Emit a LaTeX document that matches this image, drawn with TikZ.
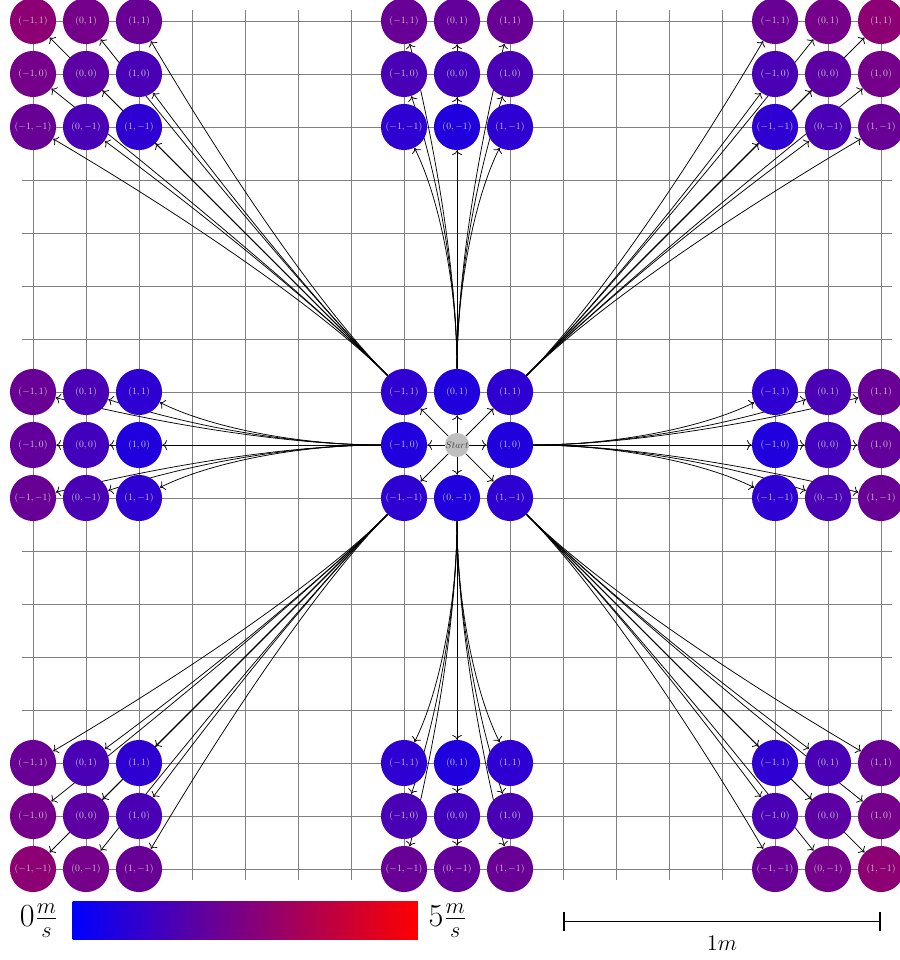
\documentclass[tikz,border=0pt]{standalone}
\usepackage{amsmath}
\usetikzlibrary{positioning,backgrounds,arrows.meta,calc}

\newcommand{\statelabel}[1]{\scalebox{0.52}{$#1$}}

\begin{document}
\begin{tikzpicture}[
  state/.style={circle, minimum size=0.87cm, inner sep=0pt, text=gray!40},
  startstate/.style={circle, inner sep=0pt, fill=lightgray, text=darkgray},
  move/.style={->, black}]
  \useasboundingbox (-8.623,-9.717) rectangle (8.34,8.396);

  % start, first accelerations and the states reached after two steps
  \node[startstate] (start) at (0,0) {\statelabel{Start}};
  \foreach \ax/\ay in {1/0,1/1,0/1,-1/1,-1/0,-1/-1,0/-1,1/-1}{
    \pgfmathtruncatemacro{\col}{13*veclen(\ax,\ay)}
    \node[state, fill=red!\col!blue] (c\ax_\ay) at (\ax,\ay) {\statelabel{(\ax,\ay)}};
    \foreach \bx in {-1,0,1}
      \foreach \by in {-1,0,1}{
        \pgfmathtruncatemacro{\col}{13*veclen(2*(\ax)+(\bx),2*(\ay)+(\by))}
        \node[state, fill=red!\col!blue] (o\ax_\ay_\bx_\by)
          at ({7*(\ax)+(\bx)},{7*(\ay)+(\by)}) {\statelabel{(\bx,\by)}};
      }
  }

  \begin{scope}[on background layer]
    \draw[gray] (-8.2,-8.2) grid (8.2,8.2);
    \foreach \ax/\ay/\ang in {1/0/0,1/1/45,0/1/90,-1/1/135,-1/0/180,-1/-1/225,0/-1/270,1/-1/315}{
      \draw[move] (start) -- (c\ax_\ay);
      \coordinate (q) at ($(c\ax_\ay)+(\ang:3)$);
      \foreach \bx in {-1,0,1}
        \foreach \by in {-1,0,1}
          \draw[move] (c\ax_\ay) .. controls ($(c\ax_\ay)+(\ang:2)$)
            and ($(o\ax_\ay_\bx_\by)!0.667!(q)$) .. (o\ax_\ay_\bx_\by);
    }
  \end{scope}

  % colour scale
  \node[minimum width=6.515cm, minimum height=0.717cm, inner sep=0pt,
        left color=blue, right color=red] (cbar) at (-3.994,-8.98) {};
  \node[left=4pt of cbar, font=\LARGE] (vmin) {$0\frac{m}{s}$};
  \node[right=2pt of cbar, font=\LARGE] (vmax) {$5\frac{m}{s}$};

  % length scale
  \coordinate (sbl) at (2,-8.99);
  \coordinate (sbr) at (8,-8.99);
  \draw[line width=1pt, {Bar[width=0.36cm]}-{Bar[width=0.36cm]}] (sbl) -- node[below=4pt, font=\large] (len) {$1m$} (sbr);
\end{tikzpicture}
\end{document}
